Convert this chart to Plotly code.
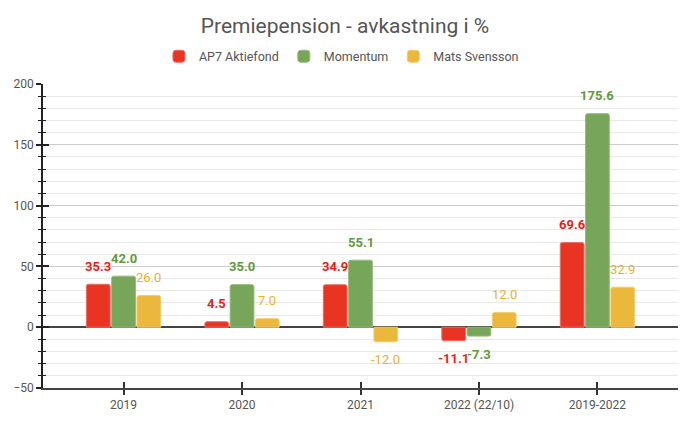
import plotly.graph_objects as go

# data
categories = ['2019', '2020', '2021', '2022 (22/10)', '2019-2022']
ap7 = [35.3, 4.5, 34.9, -11.1, 69.6]
momentum = [42.0, 35.0, 55.1, -7.3, 175.6]
mats = [26.0, 7.0, -12.0, 12.0, 32.9]

series = [
    ('AP7 Aktiefond', ap7, '#E93423', '#F26A5E', '#EE1C14', True),
    ('Momentum', momentum, '#77A65A', '#93BB7A', '#5F9B3A', True),
    ('Mats Svensson', mats, '#EBB73C', '#F2CC6E', '#EBB02E', False),
]

FONT = 'Roboto'
bargap = 0.36
slot = (1 - bargap) / 3

fig = go.Figure()
annotations = []
for k, (name, vals, fill, edge, lab, bold) in enumerate(series):
    fig.add_trace(go.Bar(x=categories, y=vals, name=name,
                         marker=dict(color=fill, line=dict(color=edge, width=1))))
    off = (k - 1) * slot
    for i, v in enumerate(vals):
        txt = f'{v:.1f}'
        if bold:
            txt = '<b>' + txt + '</b>'
        annotations.append(dict(
            x=i + off, y=v, xref='x', yref='y', text=txt, showarrow=False,
            yanchor='middle', yshift=18 if v >= 0 else -18,
            font=dict(family=FONT, size=13, color=lab)))

# invisible trace so the overlay axes (crossing ticks) get drawn
fig.add_trace(go.Scatter(x=categories, y=[None] * len(categories), xaxis='x2', yaxis='y2',
                         showlegend=False, hoverinfo='skip'))

fig.update_layout(
    width=690, height=425,
    margin=dict(l=43, r=12, t=84, b=37),
    paper_bgcolor='white', plot_bgcolor='white',
    font=dict(family=FONT, size=12, color='#555555'),
    title=dict(text='Premiepension - avkastning i %', x=0.5, xref='container', xanchor='center',
               y=1 - 26 / 425, yref='container', yanchor='middle',
               font=dict(family=FONT, size=21, color='#555555')),
    legend=dict(orientation='h', x=0.47, xanchor='center', y=1.09, yanchor='middle',
                font=dict(family=FONT, size=12.5, color='#555555'), itemwidth=30),
    barmode='group', bargap=bargap, bargroupgap=0.06, barcornerradius=2,
    annotations=annotations,
    xaxis=dict(type='category', range=[-0.68, 4.68], showgrid=False,
               showline=True, linecolor='#444444', linewidth=1.5,
               ticks='outside', ticklen=5, tickcolor='#333333', tickwidth=1.5,
               tickfont=dict(size=12, color='#555555')),
    xaxis2=dict(type='category', overlaying='x', side='bottom', range=[-0.68, 4.68],
                showgrid=False, showline=False, showticklabels=False,
                ticks='inside', ticklen=6, tickcolor='#333333', tickwidth=1.5),
    yaxis=dict(range=[-50, 200], tickvals=[-50, 0, 50, 100, 150, 200],
               showgrid=True, gridcolor='#CCCCCC', gridwidth=1,
               zeroline=True, zerolinecolor='#444444', zerolinewidth=1.5,
               showline=True, linecolor='#222222', linewidth=1.5,
               ticks='outside', ticklen=5, tickcolor='#222222', tickwidth=1.5,
               minor=dict(dtick=10, showgrid=True, gridcolor='#E8E8E8', gridwidth=1,
                          ticks='outside', ticklen=3, tickcolor='#222222', tickwidth=1),
               tickfont=dict(size=12, color='#555555')),
    yaxis2=dict(range=[-50, 200], tickvals=[-50, 0, 50, 100, 150, 200], overlaying='y', side='left',
                showgrid=False, zeroline=False, showline=False, showticklabels=False,
                ticks='inside', ticklen=6, tickcolor='#222222', tickwidth=1.5,
                minor=dict(dtick=10, ticks='inside', ticklen=3, tickcolor='#222222', tickwidth=1)),
)

# drop the browser's default 8px body margin so the figure fills the window
fig.write_html('out.html', config={'displayModeBar': False},
               post_script="document.body.style.margin='0';")
